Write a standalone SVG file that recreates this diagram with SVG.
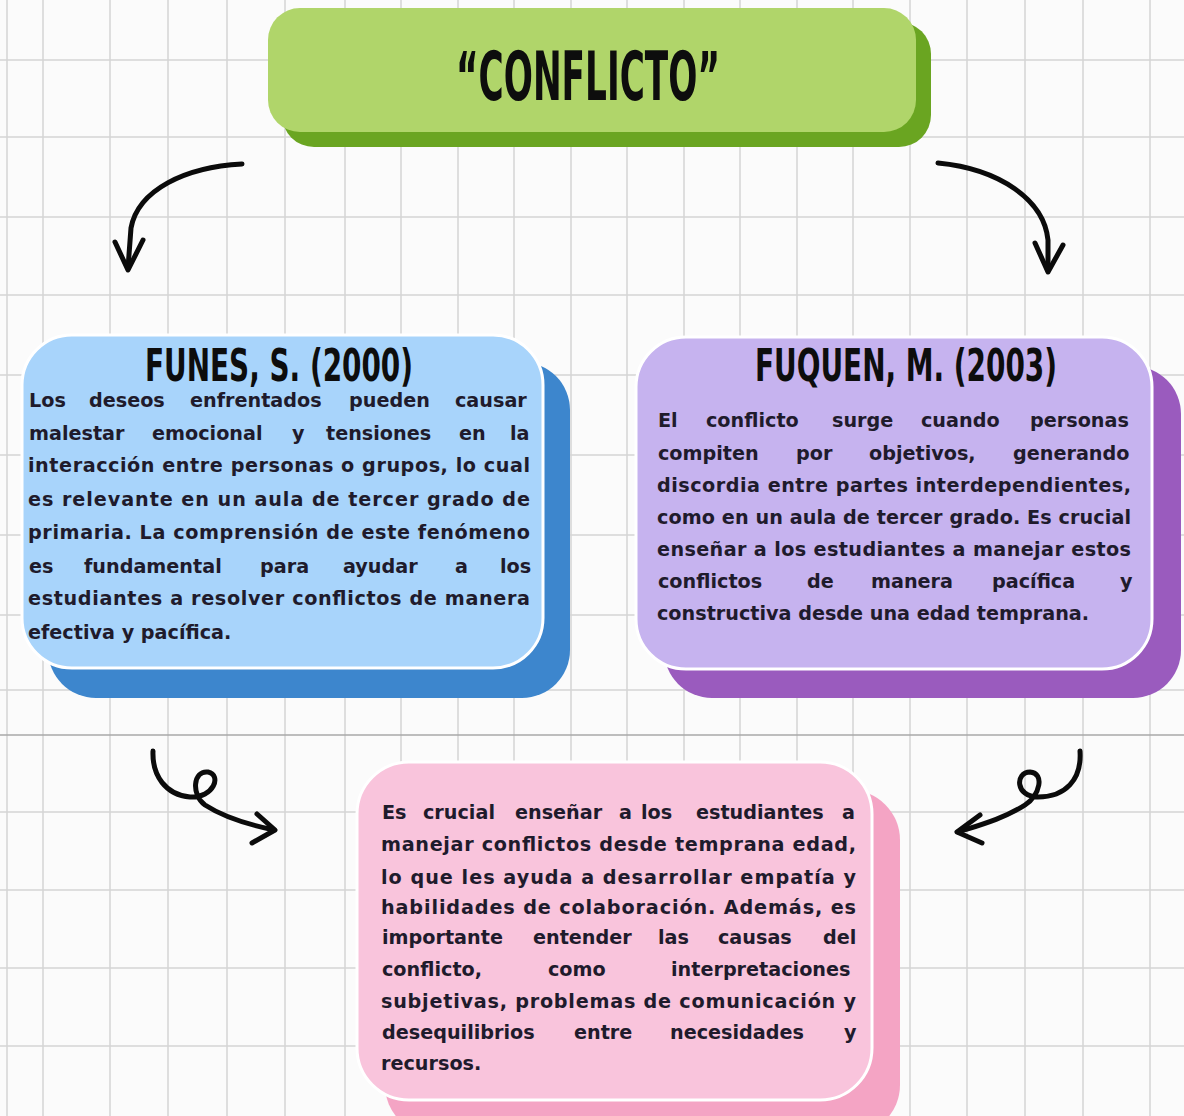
<svg xmlns="http://www.w3.org/2000/svg" width="1184" height="1116" viewBox="0 0 1184 1116">
<defs>
<style>
.grid line{stroke:#d4d4d4;stroke-width:1.5}
.body{font-family:'DejaVu Sans','Liberation Sans',sans-serif;font-weight:700;font-size:19.2px;fill:#1f1b2c}
.head{font-family:'DejaVu Sans','Liberation Sans',sans-serif;font-stretch:condensed;font-weight:700;fill:#0d0d0d}
.arrow{fill:none;stroke:#0b0b0b;stroke-width:5;stroke-linecap:round;stroke-linejoin:round}
</style>
</defs>
<rect width="1184" height="1116" fill="#fbfbfb"/>
<g class="grid">
<line x1="7" y1="0" x2="7" y2="1116"/>
<line x1="43" y1="0" x2="43" y2="1116"/>
<line x1="110" y1="0" x2="110" y2="1116"/>
<line x1="168" y1="0" x2="168" y2="1116"/>
<line x1="227" y1="0" x2="227" y2="1116"/>
<line x1="285" y1="0" x2="285" y2="1116"/>
<line x1="345" y1="0" x2="345" y2="1116"/>
<line x1="401" y1="0" x2="401" y2="1116"/>
<line x1="458" y1="0" x2="458" y2="1116"/>
<line x1="514" y1="0" x2="514" y2="1116"/>
<line x1="571" y1="0" x2="571" y2="1116"/>
<line x1="627" y1="0" x2="627" y2="1116"/>
<line x1="684" y1="0" x2="684" y2="1116"/>
<line x1="740" y1="0" x2="740" y2="1116"/>
<line x1="797" y1="0" x2="797" y2="1116"/>
<line x1="853" y1="0" x2="853" y2="1116"/>
<line x1="910" y1="0" x2="910" y2="1116"/>
<line x1="967" y1="0" x2="967" y2="1116"/>
<line x1="1025" y1="0" x2="1025" y2="1116"/>
<line x1="1083" y1="0" x2="1083" y2="1116"/>
<line x1="1150" y1="0" x2="1150" y2="1116"/>
<line x1="0" y1="60" x2="1184" y2="60"/>
<line x1="0" y1="137" x2="1184" y2="137"/>
<line x1="0" y1="217" x2="1184" y2="217"/>
<line x1="0" y1="295" x2="1184" y2="295"/>
<line x1="0" y1="375" x2="1184" y2="375"/>
<line x1="0" y1="455" x2="1184" y2="455"/>
<line x1="0" y1="535" x2="1184" y2="535"/>
<line x1="0" y1="615" x2="1184" y2="615"/>
<line x1="0" y1="690" x2="1184" y2="690"/>
<line x1="0" y1="735" x2="1184" y2="735" style="stroke:#a8a8a8"/>
<line x1="0" y1="812" x2="1184" y2="812"/>
<line x1="0" y1="890" x2="1184" y2="890"/>
<line x1="0" y1="968" x2="1184" y2="968"/>
<line x1="0" y1="1046" x2="1184" y2="1046"/>
</g>

<g id="title">
<rect x="282" y="22" width="649" height="125" rx="32" fill="#6aa521"/>
<rect x="268" y="8" width="648" height="124" rx="32" fill="#b0d56a"/>
<text class="head" x="588" y="100" text-anchor="middle" font-size="68" textLength="264" lengthAdjust="spacingAndGlyphs">“CONFLICTO”</text>
</g>

<g id="funes">
<rect x="48" y="362" width="522" height="336" rx="48" fill="#3d86cd"/>
<rect x="22" y="335" width="521" height="333" rx="50" fill="#a8d4fb" stroke="#ffffff" stroke-width="3"/>
<text class="head" x="279" y="381" text-anchor="middle" font-size="44" textLength="268" lengthAdjust="spacingAndGlyphs">FUNES, S. (2000)</text>
<text class="body" y="407"><tspan x="29">Los</tspan><tspan x="89">deseos</tspan><tspan x="190">enfrentados</tspan><tspan x="349">pueden</tspan><tspan x="455">causar</tspan></text>
<text class="body" y="440"><tspan x="29">malestar</tspan><tspan x="152">emocional</tspan><tspan x="292">y</tspan><tspan x="326">tensiones</tspan><tspan x="459">en</tspan><tspan x="510">la</tspan></text>
<text class="body" x="28" y="472" textLength="502" lengthAdjust="spacing">interacción entre personas o grupos, lo cual</text>
<text class="body" x="28" y="506" textLength="502" lengthAdjust="spacing">es relevante en un aula de tercer grado de</text>
<text class="body" x="28" y="539" textLength="502" lengthAdjust="spacing">primaria. La comprensión de este fenómeno</text>
<text class="body" y="573"><tspan x="29">es</tspan><tspan x="84">fundamental</tspan><tspan x="260">para</tspan><tspan x="343">ayudar</tspan><tspan x="455">a</tspan><tspan x="500">los</tspan></text>
<text class="body" x="28" y="605" textLength="502" lengthAdjust="spacing">estudiantes a resolver conflictos de manera</text>
<text class="body" x="28" y="639">efectiva y pacífica.</text>
</g>

<g id="fuquen">
<rect x="664" y="366" width="517" height="332" rx="48" fill="#9a5bbe"/>
<rect x="636" y="337" width="516" height="332" rx="50" fill="#c6b3ef" stroke="#ffffff" stroke-width="3"/>
<text class="head" x="906" y="381" text-anchor="middle" font-size="44" textLength="302" lengthAdjust="spacingAndGlyphs">FUQUEN, M. (2003)</text>
<text class="body" y="427"><tspan x="658">El</tspan><tspan x="706">conflicto</tspan><tspan x="832">surge</tspan><tspan x="921">cuando</tspan><tspan x="1030">personas</tspan></text>
<text class="body" y="460"><tspan x="658">compiten</tspan><tspan x="796">por</tspan><tspan x="869">objetivos,</tspan><tspan x="1013">generando</tspan></text>
<text class="body" x="657" y="492" textLength="474" lengthAdjust="spacing">discordia entre partes interdependientes,</text>
<text class="body" x="657" y="524" textLength="474" lengthAdjust="spacing">como en un aula de tercer grado. Es crucial</text>
<text class="body" x="657" y="556" textLength="474" lengthAdjust="spacing">enseñar a los estudiantes a manejar estos</text>
<text class="body" y="588"><tspan x="658">conflictos</tspan><tspan x="807">de</tspan><tspan x="871">manera</tspan><tspan x="992">pacífica</tspan><tspan x="1120">y</tspan></text>
<text class="body" x="657" y="620">constructiva desde una edad temprana.</text>
</g>

<g id="conclusion">
<rect x="385" y="790" width="515" height="345" rx="50" fill="#f4a4c4"/>
<rect x="357" y="762" width="515" height="338" rx="52" fill="#f9c4dc" stroke="#ffffff" stroke-width="3"/>
<text class="body" y="819"><tspan x="382">Es</tspan><tspan x="423">crucial</tspan><tspan x="515">enseñar</tspan><tspan x="619">a</tspan><tspan x="641">los</tspan><tspan x="696">estudiantes</tspan><tspan x="842">a</tspan></text>
<text class="body" x="381" y="851" textLength="475" lengthAdjust="spacing">manejar conflictos desde temprana edad,</text>
<text class="body" x="381" y="884" textLength="475" lengthAdjust="spacing">lo que les ayuda a desarrollar empatía y</text>
<text class="body" x="381" y="914" textLength="475" lengthAdjust="spacing">habilidades de colaboración. Además, es</text>
<text class="body" y="944"><tspan x="382">importante</tspan><tspan x="533">entender</tspan><tspan x="658">las</tspan><tspan x="718">causas</tspan><tspan x="823">del</tspan></text>
<text class="body" y="976"><tspan x="382">conflicto,</tspan><tspan x="548">como</tspan><tspan x="671">interpretaciones</tspan></text>
<text class="body" x="381" y="1008" textLength="475" lengthAdjust="spacing">subjetivas, problemas de comunicación y</text>
<text class="body" y="1039"><tspan x="382">desequilibrios</tspan><tspan x="574">entre</tspan><tspan x="670">necesidades</tspan><tspan x="844">y</tspan></text>
<text class="body" x="381" y="1070">recursos.</text>
</g>

<g id="connectors">
<path class="arrow" d="M242,164 C185,167 138,190 131,228 L128,268"/>
<path class="arrow" d="M115,242 L128,270 L143,240"/>
<path class="arrow" d="M938,163 C1000,169 1044,200 1048,240 L1048,270"/>
<path class="arrow" d="M1035,243 L1048,272 L1063,245"/>
<path class="arrow" d="M153,751 C152,776 166,795 190,797 C214,798 222,775 208,772 C193,770 191,795 205,805 C225,818 250,825 274,830"/>
<path class="arrow" d="M257,814 L275,830 L252,843"/>
<path class="arrow" d="M1080,751 C1082,780 1065,797 1038,797 C1015,797 1015,772 1030,772 C1045,773 1040,795 1025,805 C1005,818 980,825 958,832"/>
<path class="arrow" d="M980,815 L957,832 L982,843"/>
</g>
</svg>
